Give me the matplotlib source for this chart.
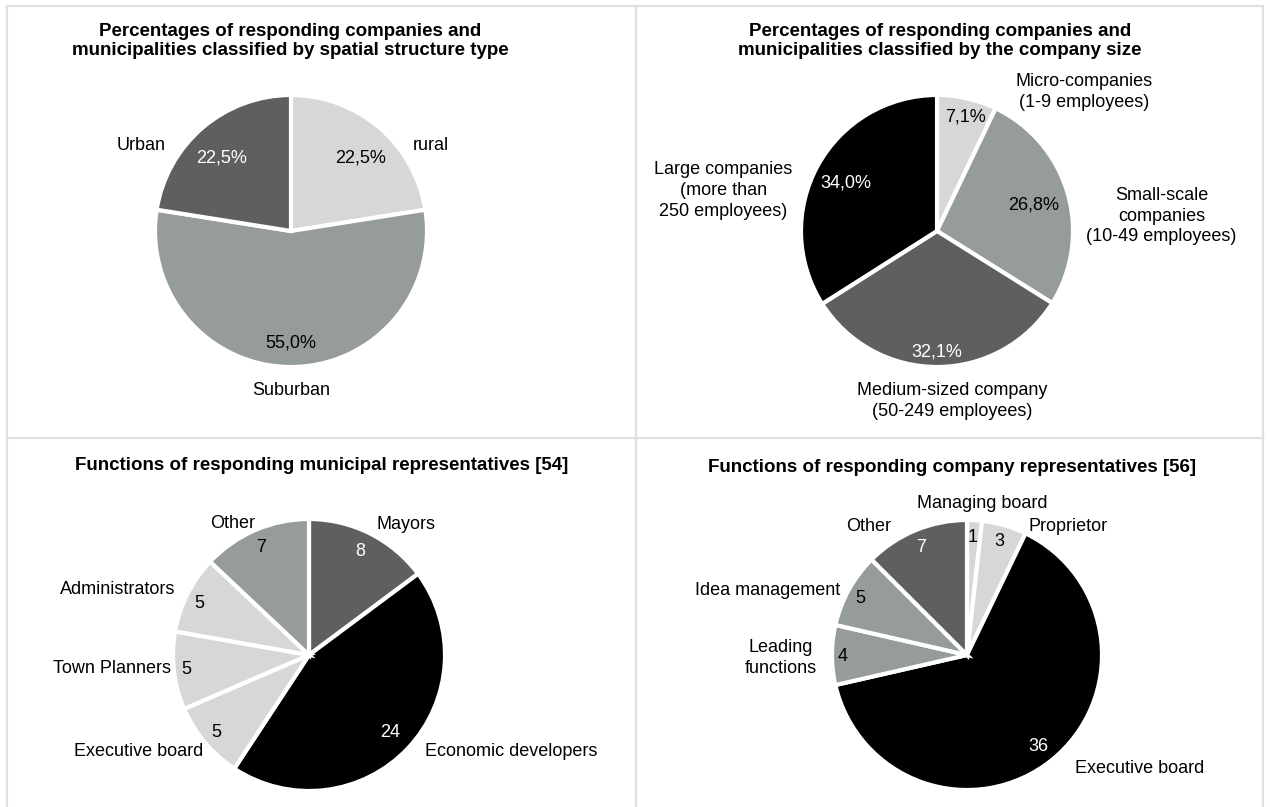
import matplotlib
matplotlib.use('Agg')
import matplotlib.pyplot as plt
from matplotlib.lines import Line2D

plt.rcParams['font.family'] = ['Liberation Sans', 'DejaVu Sans']

# data
spatial_labels = ['rural', 'Suburban', 'Urban']
spatial_values = [22.5, 55.0, 22.5]

size_labels = ['Micro-companies\n(1-9 employees)', 'Small-scale\ncompanies\n(10-49 employees)',
               'Medium-sized company\n(50-249 employees)', 'Large companies\n(more than\n250 employees)']
size_values = [7.1, 26.8, 32.1, 34.0]

muni_labels = ['Mayors', 'Economic developers', 'Executive board', 'Town Planners', 'Administrators', 'Other']
muni_values = [8, 24, 5, 5, 5, 7]

comp_labels = ['Managing board', 'Proprietor', 'Executive board', 'Leading\nfunctions', 'Idea management', 'Other']
comp_values = [1, 3, 36, 4, 5, 7]

titles = ['Percentages of responding companies and\nmunicipalities classified by spatial structure type',
          'Percentages of responding companies and\nmunicipalities classified by the company size',
          'Functions of responding municipal representatives [54]',
          'Functions of responding company representatives [56]']

LIGHT = '#d7d7d7'
MID = '#959c9a'
DARK = '#5f5f5f'
BLACK = '#000000'

W, H = 1270, 807
fig = plt.figure(figsize=(W / 100, H / 100), dpi=100)

def pct(v):
    return ('%.1f' % v).replace('.', ',') + '%'

def draw_pie(cx, cy, r, values, labels, colors, fmt, pct_pos, lab_pos):
    S = 300
    ax = fig.add_axes([(cx - S) / W, (H - cy - S) / H, 2 * S / W, 2 * S / H])
    ax.pie(values, colors=colors, startangle=90, counterclock=False, radius=1,
           wedgeprops=dict(edgecolor='white', linewidth=3))
    ax.set_xlim(-S / r, S / r)
    ax.set_ylim(-S / r, S / r)
    ax.set_aspect('equal')
    ax.axis('off')
    for v, lab, c, pp, lp in zip(values, labels, colors, pct_pos, lab_pos):
        tc = 'white' if c in (DARK, BLACK) else 'black'
        ax.text(pp[0], pp[1], fmt(v), ha='center', va='center', fontsize=13, color=tc)
        ax.text(lp[0], lp[1], lab, ha='center', va='center', fontsize=13, color='black',
                linespacing=1.3, clip_on=False)
    return ax

draw_pie(291, 231, 136, spatial_values, spatial_labels, [LIGHT, MID, DARK], pct,
         [(0.51, 0.54), (0, -0.82), (-0.51, 0.54)],
         [(1.03, 0.63), (0, -1.17), (-1.10, 0.63)])

draw_pie(937, 231, 136, size_values, size_labels, [LIGHT, MID, DARK, BLACK], pct,
         [(0.21, 0.84), (0.71, 0.19), (0, -0.89), (-0.67, 0.35)],
         [(1.08, 1.02), (1.65, 0.11), (0.11, -1.25), (-1.57, 0.30)])

draw_pie(309, 655, 136, muni_values, muni_labels, [DARK, BLACK, LIGHT, LIGHT, LIGHT, MID], str,
         [(0.38, 0.76), (0.60, -0.57), (-0.68, -0.57), (-0.90, -0.11), (-0.81, 0.38), (-0.35, 0.79)],
         [(0.71, 0.96), (1.49, -0.71), (-1.25, -0.71), (-1.45, -0.10), (-1.41, 0.48), (-0.56, 0.97)])

draw_pie(967, 655, 135, comp_values, comp_labels, [LIGHT, LIGHT, BLACK, MID, MID, DARK], str,
         [(0.04, 0.87), (0.24, 0.84), (0.53, -0.68), (-0.92, -0.01), (-0.79, 0.42), (-0.34, 0.80)],
         [(0.11, 1.12), (0.75, 0.95), (1.28, -0.84), (-1.38, -0.02), (-1.48, 0.48), (-0.73, 0.95)])

# titles
for (tx, ty), t in zip([(290, 41), (940, 41), (322, 465), (952, 467)], titles):
    fig.text(tx / W, 1 - ty / H, t, ha='center', va='center', fontsize=13.5,
             fontweight='bold', linespacing=1.2)

# panel frame lines
grid = '#e0e0e0'
for xs, ys in [([7, 1263], [6, 6]), ([7, 7], [6, 807]), ([1263, 1263], [6, 807]),
               ([636, 636], [6, 807]), ([7, 1263], [438, 438])]:
    fig.add_artist(Line2D([x / W for x in xs], [1 - y / H for y in ys], color=grid, lw=1.6))

fig.savefig('out.png', dpi=100)
